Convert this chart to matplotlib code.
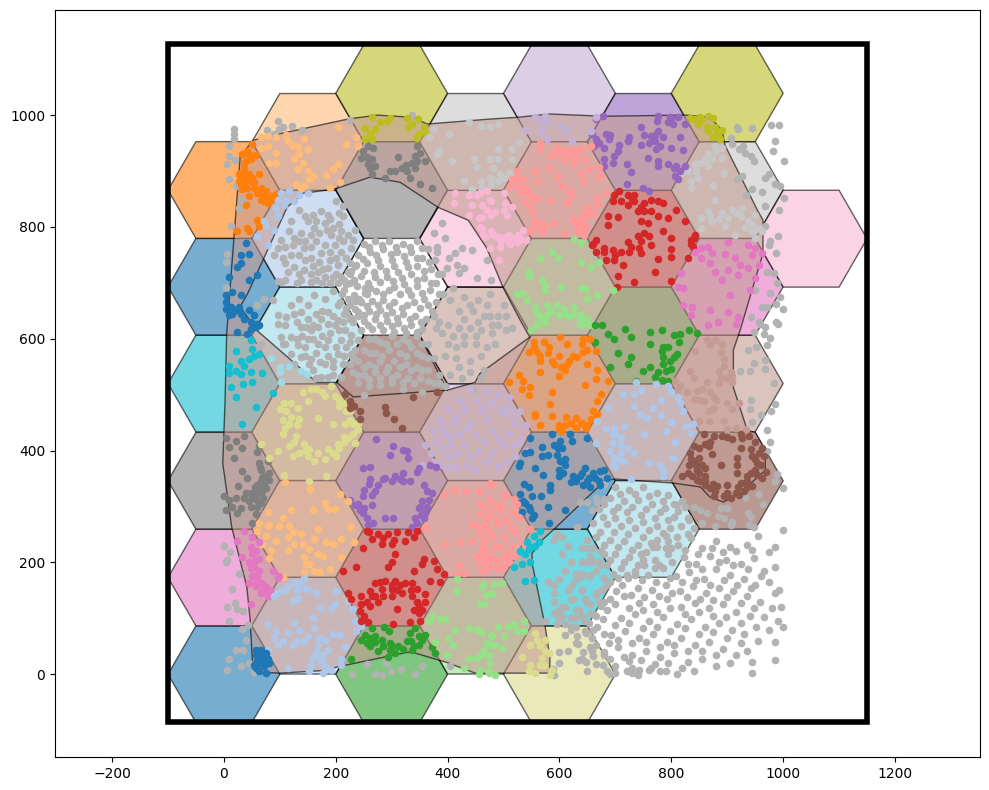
import numpy as np
import matplotlib

matplotlib.use("Agg")
import matplotlib.pyplot as plt
from matplotlib.patches import PathPatch, Rectangle, RegularPolygon
from matplotlib.path import Path

BLUE, LBLUE = "#1f77b4", "#aec7e8"
ORANGE, LORANGE = "#ff7f0e", "#ffbb78"
GREEN, LGREEN = "#2ca02c", "#98df8a"
RED, LRED = "#d62728", "#ff9896"
PURPLE, LPURPLE = "#9467bd", "#c5b0d5"
BROWN, LBROWN = "#8c564b", "#c49c94"
PINK, LPINK = "#e377c2", "#f7b6d2"
GRAY, LGRAY = "#7f7f7f", "#c7c7c7"
OLIVE, LOLIVE = "#bcbd22", "#dbdb8d"
CYAN, LCYAN = "#17becf", "#9edae5"
DOT_GRAY = "#b2b2b2"

# hexagon cells, column by column
hex_x = [0] * 6 + [150] * 6 + [300] * 6 + [450] * 6 + [600] * 7 + [750] * 5 + [900] * 5 + [1050]
hex_y = [0, 173, 346, 520, 693, 866,
         87, 260, 433, 606, 779, 952,
         0, 173, 346, 520, 866, 1039,
         87, 260, 433, 606, 779, 952,
         0, 173, 346, 520, 693, 866, 1039,
         260, 433, 606, 779, 952,
         346, 520, 693, 866, 1039,
         779]
hex_colors = [BLUE, PINK, GRAY, CYAN, BLUE, ORANGE,
              LBLUE, LORANGE, LOLIVE, LCYAN, LBLUE, LORANGE,
              GREEN, RED, PURPLE, BROWN, GRAY, OLIVE,
              LGREEN, LRED, LPURPLE, LBROWN, LPINK, LGRAY,
              LOLIVE, CYAN, BLUE, ORANGE, LGREEN, LRED, LPURPLE,
              LCYAN, LBLUE, GREEN, RED, PURPLE,
              BROWN, LBROWN, PINK, LGRAY, OLIVE,
              LPINK]

# big tinted region and the hole cut out of it
outer = [(52, 955), (106, 968), (222, 993), (274, 1000), (338, 996), (363, 984), (476, 993), (524, 996),
         (583, 1002), (678, 998), (828, 1000), (869, 996), (891, 973), (896, 946), (954, 830), (964, 812),
         (964, 753), (923, 615), (911, 580), (911, 513), (923, 476), (936, 436), (950, 433), (968, 401),
         (968, 365), (923, 324), (893, 308), (869, 317), (852, 335), (803, 342), (700, 349), (682, 347),
         (592, 261), (569, 240), (551, 216), (551, 199), (574, 88), (583, 30), (583, 2), (499, 2), (449, 2),
         (399, 21), (338, 39), (327, 39), (202, 13), (184, 7), (100, 2), (52, 4), (47, 97), (41, 156),
         (14, 263), (-2, 377), (2, 485), (5, 610), (29, 925)]
hole = [(199, 868), (261, 889), (315, 880), (383, 835), (437, 812), (470, 762), (499, 692), (530, 633),
        (547, 603), (458, 538), (449, 522), (399, 508), (231, 496), (202, 522), (166, 522), (59, 615),
        (29, 657), (43, 682), (113, 835), (141, 860)]
seam_left = [(199, 868), (250, 779), (200, 693), (250, 606), (202, 522)]
seam_right = [(383, 835), (350, 779), (400, 693), (350, 606), (399, 508)]
seam_mid = [(400, 693), (499, 692)]

orange_pts = [(51, 949), (42, 936), (33, 931), (57, 929), (39, 918), (48, 921), (36, 906), (30, 897), (27, 894),
              (45, 894), (63, 895), (33, 885), (48, 882), (42, 870), (27, 882), (33, 867), (45, 855), (60, 861),
              (72, 858), (84, 855), (93, 859), (66, 849), (78, 843), (39, 840), (60, 813), (42, 799), (45, 792),
              (24, 792), (63, 802), (30, 891), (51, 888), (36, 876), (54, 870), (72, 846), (87, 850), (66, 870),
              (36, 900), (42, 885), (30, 875), (54, 880), (80, 850), (66, 860), (45, 930), (36, 915), (39, 890), (75, 865)]
lorange_top = [(66, 960), (78, 963), (93, 960), (111, 965), (114, 954), (123, 945), (132, 945), (144, 957), (150, 939),
               (78, 945), (93, 933), (93, 915), (81, 915), (135, 930), (126, 921), (141, 915), (150, 900), (159, 891),
               (153, 885), (144, 873), (129, 876), (138, 870), (183, 893), (195, 903), (204, 912), (189, 870),
               (207, 881), (204, 978), (237, 960), (240, 945), (219, 949), (132, 903), (66, 942)]
olive_left = [(264, 997), (297, 995), (327, 995), (347, 993), (279, 987), (252, 977), (270, 975), (261, 966), (252, 957),
              (291, 990), (336, 984), (357, 978), (348, 966), (345, 959), (330, 978), (264, 957), (360, 970)]
gray_top = [(258, 945), (249, 936), (267, 942), (246, 924), (264, 921), (258, 912), (270, 909), (264, 894), (312, 925),
            (345, 945), (351, 933), (342, 927), (336, 915), (318, 906), (306, 900), (297, 900), (288, 888), (327, 900),
            (342, 906), (360, 918), (351, 876), (372, 870), (333, 888), (255, 925), (262, 905), (325, 910), (345, 918)]
lblue_top = [(102, 861), (117, 864), (135, 858), (150, 861), (96, 849), (111, 849), (126, 846), (93, 834), (108, 840),
             (96, 819), (72, 810), (75, 801), (90, 795), (60, 783), (78, 768)]
blue_left = [(39, 771), (45, 751), (30, 750), (30, 735), (24, 729), (9, 711), (45, 705), (60, 714), (15, 684), (30, 678),
             (3, 678), (3, 666), (12, 657), (27, 657), (45, 651), (54, 642), (9, 642), (36, 636), (63, 625), (48, 618),
             (57, 621), (3, 654), (21, 651), (24, 612), (42, 609), (60, 627), (48, 630), (15, 645), (30, 645)]
cyan_left = [(48, 597), (51, 582), (21, 578), (63, 573), (54, 570), (45, 564), (30, 561), (9, 552), (36, 552), (21, 543),
             (9, 538), (30, 537), (49, 540), (69, 538), (35, 519), (51, 522), (13, 513), (87, 503), (21, 495), (58, 478),
             (33, 448)]
lcyan_pts = [(85, 565), (101, 549), (101, 540), (117, 552), (138, 543), (149, 537), (103, 522)]
gray_left = [(3, 423), (36, 426), (21, 417), (9, 406), (33, 404), (63, 408), (60, 398), (18, 386), (63, 378), (78, 381),
             (66, 366), (81, 360), (33, 363), (41, 351), (69, 351), (81, 348), (60, 339), (25, 336), (75, 333), (48, 324),
             (1, 318), (36, 315), (54, 315), (69, 327), (9, 312), (21, 315), (15, 300), (30, 297), (66, 306), (48, 300),
             (3, 294), (23, 288), (57, 286), (51, 270), (66, 345), (72, 340), (60, 325), (55, 335), (45, 310), (70, 315),
             (60, 300), (65, 370), (72, 355), (62, 335), (50, 320), (40, 325), (60, 312)]
lolive_ring = [(165, 510), (192, 516), (141, 504), (150, 489), (180, 498), (198, 498), (213, 486), (219, 471), (108, 486),
               (120, 486), (111, 471), (132, 477), (135, 456), (117, 447), (105, 429), (129, 426), (144, 411), (117, 408),
               (153, 402), (168, 396), (123, 390), (186, 402), (204, 411), (222, 423), (240, 438), (216, 447), (231, 447),
               (168, 459), (195, 447), (234, 414), (66, 411), (81, 387), (96, 400), (108, 357), (153, 346), (183, 354),
               (201, 390), (162, 382), (130, 445), (145, 400), (215, 425), (225, 455), (105, 455), (205, 405),
               (155, 510), (175, 505), (205, 490), (100, 475), (120, 460), (110, 440), (125, 415), (135, 395), (150, 390),
               (180, 385), (195, 395), (215, 415), (230, 430), (240, 450), (225, 470), (205, 480)]
brown_top = [(216, 502), (225, 489), (233, 480), (243, 471), (288, 478), (289, 468), (305, 457), (319, 441), (244, 456),
             (339, 496), (381, 504), (225, 477)]
brown_ring = [(858, 429), (876, 426), (891, 426), (909, 420), (927, 423), (939, 426), (861, 411), (840, 408), (867, 408),
              (942, 402), (924, 405), (957, 396), (963, 405), (834, 396), (849, 387), (873, 394), (945, 390), (954, 378),
              (960, 375), (840, 381), (855, 375), (831, 375), (846, 366), (861, 369), (888, 374), (918, 387), (918, 374),
              (918, 360), (969, 361), (942, 360), (954, 357), (963, 351), (837, 354), (861, 354), (819, 354), (852, 345),
              (846, 348), (861, 339), (924, 342), (936, 345), (945, 336), (930, 327), (870, 333), (882, 336), (900, 339),
              (876, 318), (894, 318), (900, 324), (915, 324), (921, 321), (906, 315), (879, 327),
              (850, 405), (835, 385), (845, 375), (830, 360), (850, 360), (860, 345), (875, 340), (950, 385), (965, 390),
              (950, 365), (935, 355), (920, 335), (935, 335), (870, 415), (900, 425), (925, 430), (950, 415)]
lbrown_pts = [(864, 597), (879, 597), (888, 576), (843, 579), (894, 564), (894, 552), (834, 542), (906, 540), (888, 531),
              (864, 522), (909, 522), (807, 525), (816, 516), (810, 507), (828, 504), (846, 507), (876, 495), (840, 492),
              (858, 489), (900, 486), (921, 486), (909, 474), (876, 477), (867, 471), (849, 453), (867, 453), (894, 453),
              (900, 438), (915, 441), (933, 438), (885, 543), (870, 591), (909, 534),
              (840, 530), (855, 510), (870, 505), (885, 520), (900, 530), (850, 490), (880, 490), (870, 590), (890, 590)]
lgray_left = [(366, 960), (375, 975), (402, 966), (438, 987), (459, 981), (381, 930), (408, 918), (384, 936), (453, 907),
              (447, 921), (477, 888), (429, 882), (444, 867), (459, 882), (477, 876), (462, 870), (476, 979), (491, 985),
              (527, 952), (515, 939), (491, 939), (515, 922), (491, 922), (476, 922), (482, 906), (512, 897), (494, 894),
              (500, 888), (491, 882), (476, 888), (539, 974)]
lgray_right = [(878, 945), (890, 942), (866, 930), (854, 915), (842, 912), (830, 900), (818, 897), (872, 921), (890, 924),
               (848, 888), (836, 882), (875, 873), (895, 896), (835, 869), (878, 849), (866, 828), (854, 816), (890, 825),
               (908, 831), (926, 834), (950, 822), (938, 810), (902, 816), (872, 810), (854, 798), (956, 798), (944, 792),
               (962, 792), (914, 786), (932, 798), (896, 801), (950, 780), (866, 909),
               (860, 920), (845, 900), (880, 935), (870, 820), (885, 815), (915, 825), (925, 820), (945, 805), (950, 795)]
lpink_pts = [(438, 858), (453, 858), (471, 864), (444, 840), (462, 840), (477, 846), (438, 822), (456, 816), (477, 822),
             (462, 798), (477, 792), (414, 861), (411, 842), (458, 860), (476, 848), (500, 860), (503, 842), (515, 836),
             (485, 827), (506, 821), (461, 818), (458, 800), (464, 788), (482, 785), (500, 782), (518, 779), (535, 794),
             (532, 779), (541, 777), (512, 770), (494, 764), (476, 762), (524, 773), (491, 782), (506, 777), (467, 782),
             (492, 740), (470, 830), (500, 830), (480, 790), (510, 785), (495, 775), (525, 785)]
lpurple_pts = [(440, 510), (470, 505), (490, 500), (510, 495), (420, 490), (450, 490), (480, 485), (510, 480), (530, 470),
               (400, 475), (430, 470), (460, 470), (500, 465), (385, 455), (410, 450), (440, 450), (470, 455), (520, 450),
               (540, 445), (375, 435), (395, 430), (420, 430), (450, 430), (480, 435), (510, 430), (380, 415), (405, 410),
               (430, 410), (465, 415), (500, 410), (530, 420), (370, 395), (400, 390), (440, 390), (480, 395), (520, 390),
               (385, 375), (415, 370), (450, 365), (490, 370), (530, 375), (360, 410), (355, 375), (540, 400),
               (430, 480), (465, 480), (495, 475), (415, 460), (390, 440), (405, 425), (435, 440), (515, 465), (390, 405),
               (415, 395), (455, 400), (490, 420), (520, 410), (375, 380), (400, 370), (435, 375), (470, 380), (505, 380)]
olive_right = [(833, 995), (851, 997), (866, 999), (875, 995), (848, 984), (863, 978), (878, 978), (890, 973), (875, 960),
               (887, 957), (842, 993), (866, 972), (881, 969), (854, 990)]
purple_top = [(677, 999), (665, 993), (659, 966), (665, 957), (683, 966), (689, 957), (662, 945), (680, 942), (707, 947),
              (704, 936), (698, 927), (680, 921), (695, 915), (679, 909), (725, 960), (722, 954), (746, 978), (752, 965),
              (745, 947), (776, 999), (774, 989), (797, 996), (812, 996), (803, 984), (794, 987), (825, 985), (764, 963),
              (776, 972), (785, 960), (770, 954), (779, 945), (773, 939), (816, 961), (800, 941), (821, 938), (758, 923),
              (776, 918), (794, 912), (809, 909), (824, 909), (776, 909), (815, 900), (806, 891), (812, 885), (720, 912),
              (728, 898), (720, 876), (749, 869), (761, 865), (670, 950), (690, 965), (760, 950), (770, 965), (805, 905),
              (800, 995)]
lpurple_top = [(557, 996), (575, 999), (569, 987), (578, 990), (602, 981), (611, 972), (566, 969), (578, 957), (622, 954),
               (665, 996), (656, 972), (539, 974), (569, 975)]
lred_top = [(566, 951), (596, 942), (620, 936), (638, 939), (656, 945), (566, 939), (584, 927), (608, 921), (629, 924),
            (644, 921), (626, 912), (653, 906), (581, 906), (671, 907), (557, 900), (524, 900), (671, 891), (596, 891),
            (638, 897), (560, 882), (602, 873), (644, 882), (515, 885), (527, 873), (542, 870), (512, 873), (530, 864),
            (548, 858), (560, 852), (536, 846), (551, 828), (584, 849), (617, 864), (620, 855), (614, 843), (650, 834),
            (668, 840), (683, 861), (554, 813), (566, 807), (575, 801), (590, 807), (548, 792), (569, 792), (608, 789),
            (638, 810), (650, 822), (632, 792), (644, 786), (668, 852), (638, 798),
            (595, 930), (615, 925), (630, 935), (610, 935), (535, 885), (540, 860), (520, 885), (555, 850), (545, 840),
            (555, 800), (640, 820), (630, 805), (660, 825), (645, 800), (625, 815)]
red_top = [(698, 858), (707, 864), (722, 858), (734, 857), (695, 846), (710, 846), (722, 840), (734, 846), (740, 828),
           (752, 843), (764, 849), (776, 846), (785, 843), (752, 828), (764, 828), (746, 810), (758, 807), (776, 819),
           (794, 816), (809, 831), (824, 811), (686, 819), (686, 804), (705, 817), (785, 792), (751, 789), (761, 783),
           (740, 783), (746, 774), (722, 773), (799, 781), (842, 786), (836, 777), (839, 765), (665, 777), (659, 768),
           (665, 756), (680, 762), (695, 759), (710, 756), (728, 765), (743, 762), (746, 753), (764, 767), (800, 761),
           (799, 747), (830, 745), (776, 742), (698, 741), (713, 732), (683, 741), (770, 720), (705, 712), (733, 701),
           (800, 704), (703, 693), (730, 850), (745, 835), (660, 770), (680, 755), (700, 750), (725, 755), (835, 770),
           (840, 780)]
pink_right = [(902, 773), (866, 765), (854, 762), (842, 756), (938, 768), (950, 762), (962, 753), (944, 750), (872, 753),
              (896, 751), (854, 744), (869, 735), (878, 720), (902, 723), (914, 744), (923, 732), (938, 726), (956, 732),
              (920, 714), (950, 708), (818, 717), (812, 693), (821, 690), (941, 687), (905, 678), (821, 660), (837, 657),
              (836, 642), (869, 651), (902, 648), (920, 639), (884, 630), (866, 624), (915, 627), (890, 705)]
lgreen_top = [(626, 779), (638, 771), (587, 756), (566, 744), (597, 744), (638, 738), (671, 738), (656, 729), (545, 720),
              (545, 713), (569, 705), (575, 696), (602, 693), (638, 691), (647, 689), (695, 687), (524, 680), (533, 681),
              (575, 687), (542, 669), (668, 678), (650, 672), (557, 657), (578, 660), (596, 660), (608, 654), (626, 657),
              (563, 642), (578, 642), (599, 642), (617, 639), (638, 642), (650, 636), (560, 624), (638, 624), (656, 624),
              (559, 627), (550, 615), (649, 627), (637, 633), (560, 645), (570, 635), (585, 650), (610, 645), (625, 645),
              (645, 630), (575, 630)]
green_mid = [(664, 624), (676, 624), (717, 618), (762, 612), (783, 615), (804, 606), (816, 609), (831, 615), (846, 610),
             (686, 608), (698, 600), (728, 603), (664, 594), (762, 590), (786, 585), (813, 594), (783, 579), (795, 585),
             (810, 573), (704, 575), (728, 567), (804, 567), (786, 567), (798, 561), (690, 550), (722, 554), (762, 549),
             (750, 543), (776, 540), (791, 543), (800, 546), (737, 525), (770, 531), (783, 526), (795, 525), (786, 555)]
orange_mid = [(601, 603), (643, 600), (554, 594), (572, 594), (581, 586), (613, 591), (655, 600), (545, 576), (560, 576),
              (643, 576), (665, 578), (566, 561), (587, 560), (617, 561), (632, 567), (602, 549), (614, 555), (650, 554),
              (566, 540), (599, 534), (668, 544), (527, 536), (535, 525), (509, 522), (533, 511), (548, 513), (665, 528),
              (686, 525), (646, 518), (675, 502), (587, 504), (545, 500), (668, 488), (584, 484), (557, 465), (587, 462),
              (611, 460), (629, 459), (638, 450), (656, 456), (667, 466), (565, 446), (599, 438), (629, 441), (647, 441),
              (602, 435), (557, 462), (555, 585), (565, 570), (580, 575), (600, 570), (625, 570), (640, 590), (650, 580),
              (610, 545), (590, 555), (640, 450), (620, 450), (610, 445), (650, 445), (660, 470), (600, 445)]
lblue_mid = [(737, 522), (773, 519), (794, 516), (746, 508), (734, 502), (713, 501), (800, 504), (812, 495), (782, 491),
             (733, 480), (686, 478), (767, 477), (815, 486), (744, 465), (756, 459), (782, 464), (821, 471), (800, 451),
             (827, 444), (839, 447), (698, 441), (716, 444), (668, 453), (683, 438), (752, 429), (791, 435), (695, 429),
             (836, 431), (710, 423), (722, 405), (695, 414), (710, 396), (734, 396), (806, 416), (698, 387), (716, 381),
             (761, 378), (779, 375), (803, 386), (695, 375), (785, 363), (785, 354), (728, 350), (665, 414),
             (700, 430), (710, 410), (690, 400), (705, 385), (700, 370)]
blue_mid = [(547, 423), (586, 429), (619, 430), (649, 423), (601, 417), (622, 417), (568, 406), (598, 405), (547, 397),
            (538, 396), (568, 390), (580, 393), (595, 393), (601, 381), (530, 378), (527, 372), (557, 369), (610, 375),
            (607, 360), (571, 357), (599, 354), (620, 344), (625, 354), (637, 354), (646, 369), (652, 351), (664, 351),
            (673, 363), (685, 351), (643, 339), (673, 339), (536, 341), (545, 335), (584, 339), (584, 329), (530, 322),
            (567, 319), (551, 318), (527, 306), (539, 306), (580, 300), (533, 291), (548, 294), (551, 279), (581, 271),
            (610, 294), (640, 360), (650, 345), (660, 360), (670, 345), (630, 345), (655, 335), (680, 365), (610, 385),
            (590, 410), (605, 405), (600, 365), (535, 310), (545, 300), (555, 285)]
purple_low = [(272, 421), (303, 409), (321, 401), (327, 400), (297, 392), (330, 387), (249, 369), (262, 370), (348, 369),
              (369, 375), (380, 371), (345, 362), (261, 350), (276, 339), (288, 351), (306, 354), (321, 360), (321, 346),
              (333, 345), (270, 327), (357, 338), (363, 327), (264, 321), (372, 325), (249, 318), (225, 312), (234, 303),
              (264, 303), (243, 294), (249, 288), (348, 297), (366, 312), (363, 300), (255, 279), (267, 270), (288, 279),
              (303, 280), (342, 279), (357, 279), (336, 264), (258, 267), (360, 288), (285, 350), (300, 345), (315, 350),
              (260, 340), (250, 330), (240, 305), (250, 298), (350, 300), (355, 310), (345, 270), (352, 285)]
lred_low = [(476, 342), (503, 320), (458, 305), (476, 311), (494, 305), (518, 314), (524, 305), (458, 287), (476, 287),
            (497, 293), (515, 290), (527, 281), (488, 269), (512, 263), (521, 254), (548, 260), (467, 263), (458, 251),
            (476, 254), (494, 228), (464, 227), (485, 227), (506, 215), (467, 209), (488, 203), (500, 191), (521, 212),
            (458, 197), (476, 191), (464, 185), (533, 239), (539, 233), (393, 321), (411, 330), (432, 327), (456, 327),
            (477, 339), (360, 263), (396, 233), (423, 236), (444, 269), (468, 221), (420, 196), (429, 181), (417, 180),
            (444, 239), (453, 209), (465, 300), (485, 300), (470, 275), (490, 280), (505, 275), (480, 245), (465, 240),
            (500, 245), (480, 210), (460, 215), (500, 210), (515, 230), (490, 190), (470, 200), (510, 200), (455, 265)]
lorange_low = [(78, 266), (99, 266), (117, 266), (168, 260), (225, 264), (60, 257), (75, 248), (93, 239), (114, 245),
               (123, 254), (138, 251), (162, 242), (69, 233), (126, 233), (141, 233), (183, 236), (195, 233), (210, 242),
               (233, 236), (84, 222), (114, 222), (153, 224), (168, 215), (177, 212), (81, 208), (144, 209), (210, 210),
               (147, 197), (153, 197), (189, 189), (162, 185), (171, 182), (144, 182), (105, 174), (109, 344), (154, 331),
               (207, 323), (222, 309), (78, 291), (159, 294), (180, 306), (186, 296), (198, 295), (120, 294), (63, 270),
               (81, 267), (105, 279)]
pink_left = [(36, 256), (24, 239), (51, 245), (63, 236), (48, 227), (57, 221), (33, 209), (45, 200), (63, 206), (54, 191),
             (63, 185), (87, 185), (99, 176), (96, 172), (45, 164), (60, 173), (57, 158), (75, 156), (66, 146), (78, 140),
             (84, 149), (69, 164), (48, 126), (50, 215), (55, 205), (48, 190), (55, 175), (70, 150), (60, 165), (50, 175)]
lblue_low = [(144, 172), (135, 164), (114, 158), (150, 152), (102, 149), (90, 140), (123, 131), (165, 146), (132, 137),
             (201, 148), (222, 131), (192, 119), (171, 118), (159, 101), (198, 125), (231, 116), (234, 95), (246, 86),
             (237, 77), (126, 92), (78, 89), (93, 77), (114, 74), (135, 80), (162, 83), (180, 62), (195, 72), (207, 71),
             (90, 65), (78, 44), (96, 53), (123, 53), (144, 59), (168, 53), (186, 44), (216, 48), (168, 35), (174, 23),
             (210, 28), (114, 11), (183, 11), (156, 17), (177, 2), (153, 5), (192, 8), (210, 17),
             (110, 150), (130, 150), (125, 165), (145, 155), (95, 145), (105, 60), (130, 60), (150, 68), (170, 65),
             (165, 40), (175, 35), (180, 15), (160, 30)]
blue_low = [(57, 44), (66, 44), (75, 38), (57, 35), (69, 29), (78, 28), (63, 20), (54, 17), (72, 14), (81, 20), (63, 5),
            (75, 2), (57, 11), (69, 38), (66, 30), (60, 25), (72, 22)]
red_low = [(255, 257), (276, 251), (294, 251), (309, 254), (330, 254), (345, 257), (264, 242), (282, 233), (300, 233),
           (324, 239), (249, 226), (306, 215), (300, 200), (357, 206), (375, 203), (354, 198), (294, 191), (381, 188),
           (213, 185), (237, 191), (340, 185), (393, 179), (369, 167), (387, 165), (270, 164), (288, 167), (306, 167),
           (324, 164), (336, 164), (261, 149), (282, 152), (300, 152), (318, 146), (336, 140), (345, 152), (222, 146),
           (360, 144), (246, 140), (270, 140), (228, 134), (246, 125), (261, 122), (348, 122), (360, 130), (243, 113),
           (348, 110), (246, 95), (258, 93), (303, 89), (333, 93), (351, 95), (310, 116), (280, 165), (300, 160),
           (315, 160), (335, 150), (265, 140), (285, 140), (300, 140), (310, 150), (275, 130), (255, 130), (345, 130),
           (340, 115), (355, 115), (250, 105), (260, 255), (285, 243), (305, 240), (340, 245)]
green_low = [(264, 82), (287, 84), (295, 78), (342, 82), (252, 71), (270, 68), (282, 62), (297, 56), (333, 74), (348, 68),
             (360, 70), (246, 62), (261, 50), (276, 41), (297, 44), (312, 50), (327, 59), (348, 53), (372, 48), (228, 28),
             (306, 38), (378, 38), (294, 30), (336, 44), (270, 58), (285, 50), (300, 50), (320, 45), (335, 60), (355, 62),
             (262, 65), (255, 55), (340, 50)]
lgreen_low = [(417, 170), (416, 148), (462, 158), (477, 143), (465, 125), (372, 104), (387, 98), (396, 99), (366, 95),
              (413, 79), (438, 82), (453, 80), (462, 76), (477, 71), (377, 58), (401, 65), (410, 52), (477, 53), (465, 44),
              (453, 29), (474, 35), (399, 35), (438, 29), (429, 11), (457, 0), (474, 2), (463, 159), (483, 161), (497, 164),
              (469, 142), (479, 146), (458, 125), (536, 95), (518, 89), (509, 86), (491, 85), (524, 77), (536, 77),
              (479, 68), (500, 68), (470, 56), (485, 53), (497, 47), (461, 35), (476, 20), (458, 8), (473, 5), (485, -1)]
cyan_low = [(566, 256), (554, 248), (542, 236), (563, 236), (548, 228), (530, 221), (557, 230), (539, 215), (533, 197),
            (548, 200), (518, 191), (539, 167), (554, 168), (545, 224)]
lolive_low = [(557, 74), (560, 62), (575, 62), (548, 53), (566, 50), (581, 38), (533, 30), (569, 29), (548, 17), (566, 17),
              (587, 8), (545, 5), (557, 2), (583, -1), (575, 41), (572, 17)]

# unassigned points, drawn in plain gray
gray_edge = [(18, 975), (18, 966), (18, 957), (9, 945), (9, 927), (6, 912), (19, 919), (9, 885), (21, 873), (30, 849),
             (27, 834), (12, 801), (6, 751), (3, 738), (3, 690), (72, 672), (60, 661), (87, 670), (77, 974), (97, 990),
             (121, 981), (139, 974), (99, 975), (90, 966), (105, 978), (225, 991), (336, 1001),
             (0, 230), (11, 219), (6, 204), (3, 200), (27, 180), (15, 153), (19, 128), (6, 121), (23, 117), (34, 113),
             (10, 95), (43, 88), (33, 81), (39, 62), (21, 44), (35, 44), (9, 27), (45, 20), (30, 14), (6, 7), (54, 4),
             (255, 19), (289, 21), (317, 9), (355, 15), (229, 1), (270, 0), (282, -2), (299, 5), (341, 1), (405, 15)]
gray_lblue = [(134, 831), (159, 822), (174, 828), (186, 822), (201, 846), (213, 837), (213, 819), (180, 807), (195, 798),
              (210, 792), (234, 795), (231, 777), (213, 774), (192, 786), (162, 798), (138, 789), (117, 792), (102, 777),
              (96, 762), (123, 768), (144, 762), (165, 774), (180, 768), (198, 768), (210, 756), (228, 762), (174, 753),
              (156, 744), (135, 750), (120, 750), (90, 750), (126, 729), (144, 723), (168, 720), (186, 726), (204, 732),
              (195, 711), (180, 711), (156, 702), (138, 705), (96, 703), (102, 702), (204, 699), (222, 720), (237, 732),
              (150, 810), (170, 790), (120, 810), (190, 740), (210, 710), (160, 730), (130, 700), (175, 700), (225, 700),
              (145, 775), (110, 735), (205, 805), (145, 820), (165, 810), (190, 815), (205, 825), (125, 780), (155, 785),
              (185, 795), (205, 780), (222, 785), (110, 765), (135, 775), (155, 765), (190, 755), (218, 745), (105, 745),
              (145, 740), (170, 738), (200, 745), (225, 735), (115, 720), (135, 715), (155, 715), (178, 725), (200, 715),
              (110, 705), (165, 705), (190, 700), (215, 705)]
gray_lcyan = [(102, 603), (120, 603), (138, 621), (156, 615), (168, 621), (186, 627), (204, 633), (216, 615), (228, 606),
              (210, 597), (186, 597), (168, 591), (150, 600), (132, 588), (120, 573), (138, 567), (156, 564), (171, 558),
              (186, 570), (204, 573), (219, 585), (240, 597), (228, 573), (213, 555), (195, 549), (180, 555), (153, 555),
              (186, 531), (174, 531), (210, 531), (225, 555), (96, 642), (111, 639), (135, 672), (162, 678), (180, 672),
              (186, 648), (204, 660), (174, 636), (147, 621), (198, 624), (222, 672), (234, 654), (213, 630), (96, 627),
              (138, 648), (150, 660), (120, 660), (195, 685), (165, 645), (240, 640), (225, 635), (255, 680), (245, 665),
              (66, 591), (60, 585), (110, 625), (130, 630), (150, 635), (175, 650), (195, 640), (215, 645), (125, 645),
              (160, 625), (110, 590), (130, 600), (145, 585), (160, 600), (180, 585), (200, 585), (225, 595), (235, 580),
              (125, 555), (145, 570), (165, 575), (195, 560), (215, 570), (160, 545), (195, 535), (230, 565), (190, 610),
              (205, 615), (175, 605), (140, 605), (105, 590), (165, 530)]
gray_white = [(250, 770), (270, 775), (295, 775), (320, 770), (345, 775), (365, 760), (240, 750), (262, 755), (285, 760),
              (310, 755), (335, 755), (355, 745), (378, 740), (235, 730), (255, 735), (275, 740), (300, 740), (325, 738),
              (345, 730), (370, 725), (390, 715), (225, 715), (245, 712), (268, 720), (290, 722), (312, 720), (335, 715),
              (358, 708), (380, 700), (218, 698), (238, 695), (258, 700), (280, 702), (302, 703), (322, 698), (345, 695),
              (368, 688), (392, 680), (212, 680), (232, 678), (252, 682), (272, 685), (295, 688), (315, 680), (335, 678),
              (358, 672), (380, 665), (208, 665), (225, 660), (245, 665), (265, 668), (285, 670), (305, 665), (328, 660),
              (350, 655), (372, 650), (220, 645), (240, 648), (260, 650), (280, 652), (300, 648), (320, 645), (342, 640),
              (362, 635), (385, 630), (230, 630), (250, 632), (270, 635), (292, 632), (312, 628), (335, 625), (355, 618),
              (265, 618), (285, 615), (305, 612), (325, 610), (245, 615), (260, 765), (283, 768), (308, 765), (333, 765),
              (355, 762), (248, 742), (272, 750), (298, 752), (322, 748), (346, 745), (366, 738), (228, 722), (250, 722),
              (280, 730), (305, 730), (330, 728), (358, 722), (382, 715), (232, 705), (252, 690), (270, 710), (292, 710),
              (318, 708), (345, 705), (370, 700), (215, 688), (242, 672), (262, 690), (285, 680), (305, 692), (330, 688),
              (355, 682), (385, 680), (218, 655), (235, 668), (255, 658), (275, 660), (295, 658), (318, 655), (340, 665),
              (365, 660), (228, 638), (250, 642), (272, 645), (290, 642), (310, 638), (332, 635), (352, 630), (375, 640),
              (258, 625), (280, 625), (300, 622), (322, 620), (345, 612)]
gray_brown = [(260, 600), (280, 595), (300, 605), (320, 600), (345, 605), (365, 590), (250, 580), (270, 575), (295, 580),
              (315, 575), (335, 585), (355, 570), (375, 565), (240, 560), (260, 555), (280, 560), (305, 560), (325, 555),
              (345, 550), (365, 545), (385, 535), (230, 540), (250, 535), (270, 540), (290, 540), (310, 535), (330, 530),
              (350, 530), (375, 520), (395, 515), (240, 520), (260, 515), (280, 518), (300, 520), (320, 510), (355, 505),
              (250, 500), (270, 600), (290, 590), (310, 590), (330, 595), (355, 590), (262, 575), (283, 570), (325, 570),
              (345, 575), (365, 565), (250, 550), (270, 550), (293, 550), (315, 550), (335, 545), (355, 545), (240, 535),
              (260, 528), (280, 530), (300, 530), (320, 522), (340, 520), (365, 525), (385, 520)]
gray_lbrown = [(410, 690), (430, 675), (455, 670), (475, 680), (420, 650), (445, 650), (465, 640), (490, 640), (400, 625),
               (420, 620), (440, 620), (460, 615), (480, 610), (505, 615), (430, 590), (450, 590), (470, 585), (400, 590),
               (390, 610), (415, 565), (440, 560), (465, 545), (425, 530), (445, 510), (460, 530), (405, 535), (475, 640),
               (500, 660), (515, 620), (405, 670), (440, 660), (470, 660), (430, 635), (455, 630), (480, 625), (410, 605),
               (430, 605), (450, 605), (490, 625), (415, 585), (460, 570), (485, 590), (440, 540), (420, 550), (395, 570),
               (380, 620), (505, 640)]
gray_lpink = [(390, 807), (375, 789), (396, 780), (381, 765), (414, 753), (402, 744), (426, 762), (417, 732), (399, 726),
              (381, 756), (429, 726), (420, 717), (453, 708), (471, 741), (477, 705), (444, 759)]
gray_right = [(920, 975), (917, 978), (945, 977), (979, 982), (992, 982), (986, 954), (981, 936), (1001, 918), (907, 959),
              (908, 948), (921, 939), (929, 945), (931, 932), (943, 927), (947, 918), (917, 885), (927, 891), (967, 888),
              (975, 894), (985, 877), (994, 874), (1001, 851), (944, 868), (963, 862), (933, 858), (967, 838), (993, 831),
              (968, 801), (991, 784), (977, 774), (974, 768), (987, 754), (971, 719), (983, 718), (989, 699), (949, 687),
              (977, 681), (971, 657), (988, 663), (994, 674), (1000, 653), (962, 657), (943, 639), (959, 627), (967, 621),
              (990, 627), (948, 612), (956, 630), (966, 609), (976, 602), (972, 588), (988, 630), (937, 580), (951, 586),
              (967, 562), (947, 556), (923, 542), (940, 543), (968, 546), (984, 521), (943, 491), (941, 474), (985, 484),
              (979, 471), (961, 464), (945, 452), (972, 437), (976, 416), (971, 399)]
gray_hexbrown = [(956, 322), (989, 358), (985, 345), (999, 333), (964, 305), (932, 317), (888, 297), (900, 297), (894, 279),
                 (883, 283), (852, 294), (863, 289), (840, 300), (937, 288), (942, 282), (909, 273), (939, 267), (948, 264),
                 (906, 267), (879, 266), (855, 270), (831, 276), (825, 300), (810, 303)]
gray_corner = [(763, 235), (790, 248), (812, 232), (835, 244), (855, 225), (880, 238), (905, 228), (935, 232), (955, 248),
               (985, 228), (1000, 258), (745, 215), (770, 205), (795, 215), (822, 210), (845, 198), (870, 212), (898, 205),
               (925, 198), (948, 208), (965, 185), (985, 192), (735, 185), (758, 178), (785, 190), (808, 175), (832, 182),
               (858, 170), (880, 188), (905, 178), (930, 170), (950, 160), (975, 165), (992, 150), (690, 165), (712, 160),
               (740, 155), (765, 150), (790, 160), (815, 148), (838, 158), (862, 145), (885, 155), (910, 148), (935, 140),
               (958, 130), (980, 118), (997, 120), (640, 150), (665, 142), (690, 135), (715, 140), (742, 128), (768, 125),
               (792, 135), (818, 120), (842, 128), (868, 118), (892, 125), (915, 112), (940, 105), (965, 102), (990, 95),
               (1000, 85), (610, 120), (635, 115), (660, 108), (685, 115), (710, 100), (735, 108), (760, 95), (785, 102),
               (810, 90), (835, 98), (860, 85), (885, 92), (908, 80), (930, 72), (955, 60), (985, 58), (595, 90), (620, 85),
               (645, 78), (668, 85), (692, 70), (718, 78), (742, 65), (768, 72), (792, 58), (818, 65), (842, 52), (868, 58),
               (892, 45), (915, 35), (935, 42), (985, 25), (630, 55), (655, 48), (680, 40), (705, 48), (730, 35), (755, 42),
               (780, 30), (805, 38), (830, 22), (855, 28), (880, 15), (905, 20), (945, 22), (600, 40), (635, 25), (665, 18),
               (700, 15), (730, 12), (760, 8), (790, 5), (810, 0), (840, 5), (650, 5), (690, 0), (720, 5), (945, 2),
               (599, 20), (589, 10), (590, -1), (620, 79), (633, 54), (642, 39), (658, 41), (648, 22), (647, 74), (665, 53),
               (680, 35), (677, 17), (685, 6), (689, 56), (725, 23), (729, 3), (743, 8), (764, 11), (779, 5),
               (775, 228), (800, 225), (825, 222), (848, 215), (872, 225), (893, 218), (915, 220), (945, 222), (975, 218),
               (752, 195), (778, 195), (802, 200), (830, 198), (855, 188), (885, 200), (910, 195), (938, 188), (960, 175),
               (722, 172), (748, 168), (772, 165), (797, 172), (820, 165), (845, 168), (870, 160), (895, 168), (918, 160),
               (942, 155), (985, 145), (678, 152), (702, 148), (728, 142), (752, 138), (778, 140), (802, 145), (828, 138),
               (852, 135), (875, 132), (900, 138), (925, 128), (948, 118), (625, 135), (650, 128), (675, 122), (700, 125),
               (725, 118), (750, 115), (775, 112), (798, 118), (825, 108), (850, 112), (875, 105), (898, 102), (925, 92),
               (952, 85), (975, 80), (605, 105), (628, 100), (652, 92), (678, 98), (700, 88), (725, 92), (750, 82), (775, 85),
               (798, 78), (825, 82), (850, 72), (875, 75), (900, 65), (925, 55), (610, 70), (632, 68), (658, 65), (680, 72),
               (705, 62), (730, 55), (755, 58), (780, 48), (805, 52), (830, 42), (855, 42), (880, 35), (615, 42), (640, 28),
               (660, 32), (690, 28), (715, 30), (745, 25), (770, 18), (795, 20), (820, 12), (700, 2), (740, -1)]
gray_hexcyan = [(680, 340), (700, 335), (725, 330), (750, 335), (775, 325), (795, 320), (820, 310), (665, 315), (690, 315),
                (715, 310), (740, 312), (765, 305), (788, 298), (812, 292), (830, 280), (670, 295), (695, 292), (720, 290),
                (745, 285), (770, 280), (795, 275), (818, 265), (840, 262), (660, 270), (685, 268), (710, 265), (735, 262),
                (760, 258), (785, 252), (810, 245), (830, 250), (665, 245), (690, 240), (715, 238), (740, 232), (768, 228),
                (790, 225), (675, 220), (700, 215), (725, 210), (750, 205), (770, 190), (660, 200), (685, 195), (710, 190),
                (735, 178), (655, 178), (680, 172), (705, 172), (650, 225), (640, 200), (630, 180), (622, 160),
                (708, 322), (735, 322), (760, 318), (785, 310), (805, 305), (680, 305), (705, 300), (730, 300), (755, 295),
                (780, 290), (805, 282), (678, 282), (700, 280), (725, 275), (750, 272), (775, 265), (798, 262), (672, 255),
                (698, 255), (722, 250), (750, 245), (775, 240), (795, 238), (680, 232), (705, 228), (730, 222), (755, 218),
                (690, 205), (715, 200), (740, 195), (665, 185), (695, 180), (720, 178), (655, 212), (640, 180)]
gray_cyan = [(595, 250), (605, 245), (650, 240), (660, 225), (680, 215), (605, 215), (620, 200), (650, 200), (675, 195),
             (655, 175), (630, 170), (600, 170), (580, 165), (590, 145), (615, 150), (640, 150), (665, 145), (685, 160),
             (680, 130), (655, 125), (590, 130), (605, 120), (630, 115), (665, 105), (600, 100), (620, 100), (645, 95),
             (575, 95), (637, 308), (649, 308), (658, 294), (667, 308), (679, 314), (631, 264), (590, 240), (615, 230),
             (640, 225), (670, 200), (640, 175), (610, 185), (590, 160), (620, 135), (645, 135), (670, 130), (600, 115),
             (640, 105), (655, 110), (675, 150), (610, 90), (660, 80), (630, 85), (590, 110)]

xlim = (-302, 1352)
ylim = (-148, 1188)
xticks = [-200, 0, 200, 400, 600, 800, 1000, 1200]
yticks = [0, 200, 400, 600, 800, 1000]
box_x, box_y, box_w, box_h = -100, -85, 1250, 1212


def hole_path(outer_pts, hole_pts):
    # hole runs the other way round so it stays empty
    verts = list(outer_pts) + [outer_pts[0]] + list(hole_pts[::-1]) + [hole_pts[-1]]
    codes = ([Path.MOVETO] + [Path.LINETO] * (len(outer_pts) - 1) + [Path.CLOSEPOLY]
             + [Path.MOVETO] + [Path.LINETO] * (len(hole_pts) - 1) + [Path.CLOSEPOLY])
    return Path(verts, codes)


fig = plt.figure(figsize=(9.89, 7.90), dpi=100)
ax = fig.add_axes([55 / 989, 33 / 790, 925 / 989, 747 / 790])

for x, y, c in zip(hex_x, hex_y, hex_colors):
    ax.add_patch(RegularPolygon((x, y), 6, radius=100, orientation=np.pi / 6,
                                facecolor=c, edgecolor="k", alpha=0.6, linewidth=1))

ax.add_patch(PathPatch(hole_path(outer, hole), facecolor=LBROWN, edgecolor="k", alpha=0.6, linewidth=1))
for seam in (seam_left, seam_right, seam_mid):
    s = np.array(seam)
    ax.plot(s[:, 0], s[:, 1], color="k", alpha=0.6, linewidth=1)

clusters = [
    (gray_edge, DOT_GRAY), (gray_lblue, DOT_GRAY), (gray_lcyan, DOT_GRAY), (gray_white, DOT_GRAY),
    (gray_brown, DOT_GRAY), (gray_lbrown, DOT_GRAY), (gray_lpink, DOT_GRAY), (gray_right, DOT_GRAY),
    (gray_hexbrown, DOT_GRAY), (gray_corner, DOT_GRAY), (gray_hexcyan, DOT_GRAY), (gray_cyan, DOT_GRAY),
    (orange_pts, ORANGE), (lorange_top, LORANGE), (olive_left, OLIVE), (gray_top, GRAY), (lblue_top, LBLUE),
    (blue_left, BLUE), (cyan_left, CYAN), (lcyan_pts, LCYAN), (gray_left, GRAY), (lolive_ring, LOLIVE),
    (brown_top, BROWN), (brown_ring, BROWN), (lbrown_pts, LBROWN), (lgray_left, LGRAY), (lgray_right, LGRAY),
    (lpink_pts, LPINK), (lpurple_pts, LPURPLE), (olive_right, OLIVE), (purple_top, PURPLE), (lpurple_top, LPURPLE),
    (lred_top, LRED), (red_top, RED), (pink_right, PINK), (lgreen_top, LGREEN), (green_mid, GREEN),
    (orange_mid, ORANGE), (lblue_mid, LBLUE), (blue_mid, BLUE), (purple_low, PURPLE), (lred_low, LRED),
    (lorange_low, LORANGE), (pink_left, PINK), (lblue_low, LBLUE), (blue_low, BLUE), (red_low, RED),
    (green_low, GREEN), (lgreen_low, LGREEN), (cyan_low, CYAN), (lolive_low, LOLIVE),
]
for pts, c in clusters:
    p = np.array(pts)
    ax.scatter(p[:, 0], p[:, 1], s=20, color=c, zorder=3)

ax.add_patch(Rectangle((box_x, box_y), box_w, box_h, fill=False, edgecolor="k", linewidth=4, zorder=4))

ax.set_xlim(*xlim)
ax.set_ylim(*ylim)
ax.set_xticks(xticks)
ax.set_yticks(yticks)
fig.savefig("out.png", dpi=100)
